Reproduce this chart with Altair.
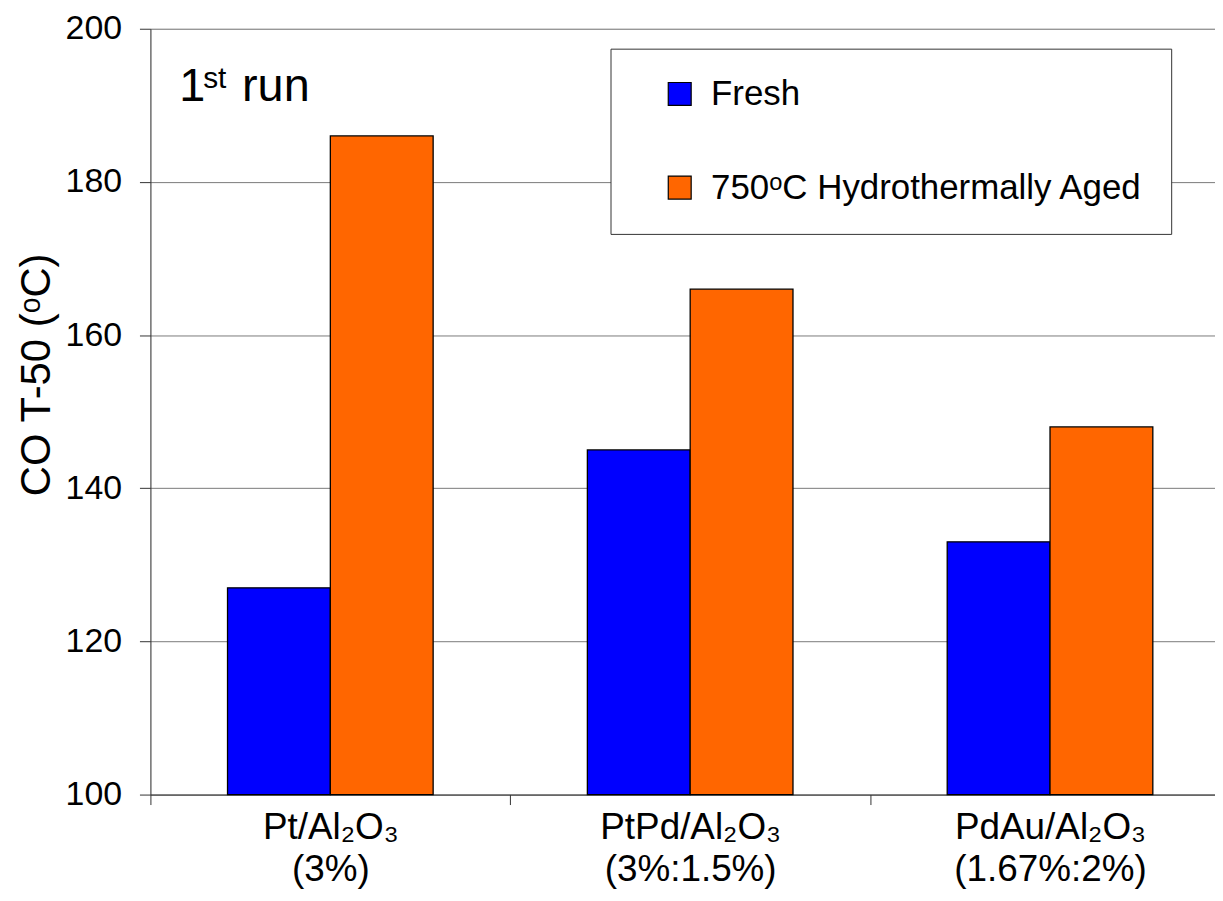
import altair as alt
import pandas as pd

FONT = "Liberation Sans"

# ---- data ----
categories = ["Pt/Al₂O₃\n(3%)", "PtPd/Al₂O₃\n(3%:1.5%)", "PdAu/Al₂O₃\n(1.67%:2%)"]
series = ["Fresh", "750ᵒC Hydrothermally Aged"]
fresh = [127, 145, 133]
aged = [186, 166, 148]
colors = ["#0000FF", "#FF6600"]
y_ticks = [100, 120, 140, 160, 180, 200]
y_title = "CO T-50 (ᵒC)"
run_parts = ["1", "st", "run"]

rows = []
for c, f, a in zip(categories, fresh, aged):
    rows.append({"cat": c, "series": series[0], "val": f})
    rows.append({"cat": c, "series": series[1], "val": a})
df = pd.DataFrame(rows)

W, H = 1069, 769

bars = alt.Chart(df).mark_bar(stroke="black", strokeWidth=1.3).encode(
    x=alt.X("cat:N", sort=categories,
            scale=alt.Scale(range=[0, 1084], paddingInner=0, paddingOuter=0),
            axis=alt.Axis(title=None, labelAngle=0, tickBand="extent", grid=False,
                          labelFont=FONT, labelFontSize=37, labelColor="black",
                          labelLineHeight=42, labelPadding=5, tickSize=10,
                          labelLimit=0,
                          labelExpr="split(datum.label, '\\n')",
                          domainColor="#333333", tickColor="#333333")),
    xOffset=alt.XOffset("series:N", sort=series,
                        scale=alt.Scale(paddingInner=0, paddingOuter=0.75)),
    y=alt.Y("val:Q",
            scale=alt.Scale(domain=[100, 200], nice=False, zero=False),
            axis=alt.Axis(title=y_title, values=y_ticks, grid=True,
                          gridColor="#7a7a7a", gridWidth=1,
                          labelFont=FONT, labelFontSize=34, labelColor="black",
                          labelPadding=18, tickSize=11,
                          titleFont=FONT, titleFontSize=42, titleFontWeight="normal",
                          titleColor="black", titleX=-101, titleY=347,
                          titleAngle=270, titleAlign="center", titleBaseline="alphabetic",
                          domainColor="#333333", tickColor="#333333")),
    y2=alt.datum(100),
    color=alt.Color("series:N", sort=series,
                    scale=alt.Scale(domain=series, range=colors),
                    legend=alt.Legend(orient="none", legendX=462, legendY=20, title=None,
                                      direction="vertical",
                                      labelFont=FONT, labelFontSize=35, labelColor="black",
                                      symbolType="square", symbolSize=529,
                                      symbolStrokeColor="black", symbolStrokeWidth=1.2,
                                      symbolOpacity=1,
                                      fillColor="white", strokeColor="#333333",
                                      padding=28, rowPadding=58, symbolOffset=24,
                                      labelOffset=14, labelLimit=0)),
)

t1 = alt.Chart(pd.DataFrame({"t": [run_parts[0]]})).mark_text(
    font=FONT, fontSize=47, align="left", baseline="alphabetic", color="black"
).encode(text="t:N", x=alt.value(29), y=alt.value(73))
t2 = alt.Chart(pd.DataFrame({"t": [run_parts[1]]})).mark_text(
    font=FONT, fontSize=30, align="left", baseline="alphabetic", color="black"
).encode(text="t:N", x=alt.value(53), y=alt.value(60))
t3 = alt.Chart(pd.DataFrame({"t": [run_parts[2]]})).mark_text(
    font=FONT, fontSize=47, align="left", baseline="alphabetic", color="black"
).encode(text="t:N", x=alt.value(92), y=alt.value(73))

chart = alt.layer(bars, t1, t2, t3).properties(
    width=W, height=H,
    autosize=alt.AutoSizeParams(type="none"),
    padding={"left": 143, "top": 19, "right": 0, "bottom": 97},
).configure_view(stroke="transparent").configure(background="white")

chart.save("out.html", embed_options={"renderer": "svg", "actions": False})
